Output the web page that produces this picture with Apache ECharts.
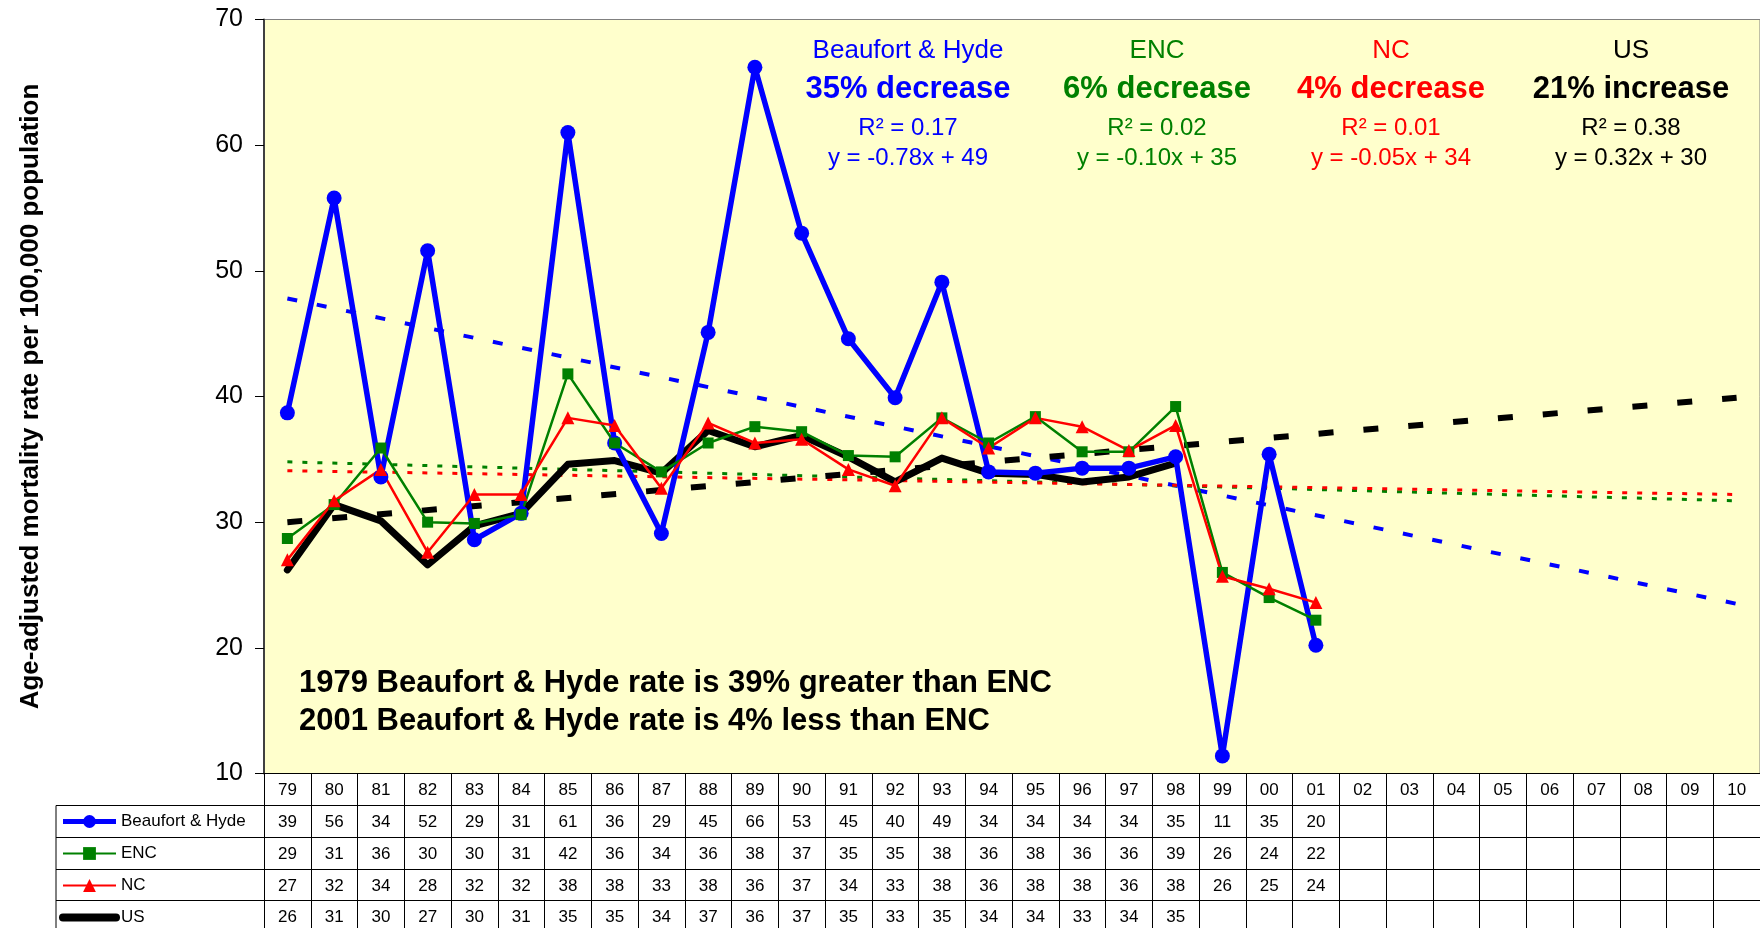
<!DOCTYPE html>
<html>
<head>
<meta charset="utf-8">
<title>Age-adjusted mortality rate</title>
<script src="https://cdn.jsdelivr.net/npm/echarts@6/dist/echarts.min.js"></script>
<style>
  html, body { margin: 0; padding: 0; background: #fff; }
  #chart { width: 1760px; height: 928px; }
</style>
</head>
<body>
<div id="chart"></div>
<script>
// Data
const years = ['79', '80', '81', '82', '83', '84', '85', '86', '87', '88', '89', '90', '91', '92', '93', '94',
    '95', '96', '97', '98', '99', '00', '01', '02', '03', '04', '05', '06', '07', '08', '09', '10'];
const beaufortHyde = [38.7, 55.8, 33.6, 51.6, 28.6, 30.7, 61.0, 36.3, 29.1, 45.1, 66.2, 53.0, 44.6, 39.9, 49.1, 34.0,
    33.9, 34.3, 34.3, 35.2, 11.4, 35.4, 20.2];
const enc = [28.7, 31.4, 35.9, 30.0, 29.9, 30.6, 41.8, 36.3, 34.0, 36.3, 37.6, 37.2, 35.3, 35.2, 38.3, 36.3,
    38.4, 35.6, 35.6, 39.2, 26.0, 24.0, 22.2];
const nc = [27.0, 31.7, 34.2, 27.6, 32.2, 32.2, 38.3, 37.7, 32.7, 37.9, 36.3, 36.6, 34.2, 32.9, 38.3, 35.9,
    38.3, 37.6, 35.7, 37.7, 25.7, 24.7, 23.6];
const us = [26.2, 31.4, 30.1, 26.6, 29.7, 30.7, 34.6, 34.9, 33.9, 37.3, 36.0, 36.9, 35.2, 33.2, 35.1, 33.9,
    33.8, 33.2, 33.6, 34.7];

// Trend line end values (at '79' and at '10')
const trendBH = [47.8, 23.5];
const trendENC = [34.8, 31.7];
const trendNC = [34.1, 32.2];
const trendUS = [30.0, 39.9];

const yTicks = { min: 10, max: 70, interval: 10 };

const tableRows = [beaufortHyde, enc, nc, us];

const FONT = 'Liberation Sans, Arial, sans-serif';
const BLUE = '#0000FF', GREEN = '#008000', RED = '#FF0000', BLACK = '#000000';

// layout
const gridLeft = 264, gridTop = 19.5, gridBottom = 154.5;
const rowH = 32;
const tableTop = 928 - gridBottom;
const rowOffsets = [32, 64, 96, 127];
const legendLeft = 56;

const chart = echarts.init(document.getElementById('chart'));

function trendData(ends) {
    return [[years[0], ends[0]], [years[years.length - 1], ends[1]]];
}

// one axis per table row, labels come from the series arrays
const rowAxes = tableRows.map(function (row, k) {
    return {
        type: 'category',
        data: years,
        position: 'bottom',
        offset: rowOffsets[k],
        boundaryGap: true,
        axisLine: { show: true, lineStyle: { color: '#000', width: 1 } },
        axisTick: { show: true, interval: 0, length: rowH, lineStyle: { color: '#000' } },
        axisLabel: {
            interval: 0,
            margin: 8,
            fontSize: 17,
            fontFamily: FONT,
            color: '#000',
            formatter: function (val, idx) {
                return row[idx] != null ? String(Math.round(row[idx])) : '';
            }
        },
        splitLine: { show: false }
    };
});

// borders of the legend cells left of the plot
const tableLines = [];
rowOffsets.forEach(function (off) {
    tableLines.push({
        type: 'line',
        shape: { x1: legendLeft, y1: tableTop + off, x2: gridLeft, y2: tableTop + off },
        style: { stroke: '#000', lineWidth: 1 }
    });
});
tableLines.push({
    type: 'line',
    shape: { x1: legendLeft, y1: tableTop + rowOffsets[0], x2: legendLeft, y2: 928 },
    style: { stroke: '#000', lineWidth: 1 }
});

// annotation blocks above the lines
const notes = [
    { x: 908, color: BLUE, name: 'Beaufort & Hyde', change: '35% decrease', r2: 'R² = 0.17', eq: 'y = -0.78x + 49' },
    { x: 1157, color: GREEN, name: 'ENC', change: '6% decrease', r2: 'R² = 0.02', eq: 'y = -0.10x + 35' },
    { x: 1391, color: RED, name: 'NC', change: '4% decrease', r2: 'R² = 0.01', eq: 'y = -0.05x + 34' },
    { x: 1631, color: BLACK, name: 'US', change: '21% increase', r2: 'R² = 0.38', eq: 'y = 0.32x + 30' }
];
const noteText = [];
notes.forEach(function (n) {
    const rows = [
        { t: n.name, y: 51, font: '26px ' + FONT },
        { t: n.change, y: 89, font: 'bold 31px ' + FONT },
        { t: n.r2, y: 128, font: '24px ' + FONT },
        { t: n.eq, y: 158, font: '24px ' + FONT }
    ];
    rows.forEach(function (r) {
        noteText.push({
            type: 'text',
            x: n.x,
            y: r.y,
            z: 10,
            style: { text: r.t, fill: n.color, font: r.font, textAlign: 'center', textVerticalAlign: 'middle' }
        });
    });
});
['1979 Beaufort & Hyde rate is 39% greater than ENC', '2001 Beaufort & Hyde rate is 4% less than ENC']
    .forEach(function (t, i) {
        noteText.push({
            type: 'text',
            x: 299,
            y: 683 + i * 38,
            z: 10,
            style: { text: t, fill: '#000', font: 'bold 31px ' + FONT, textAlign: 'left', textVerticalAlign: 'middle' }
        });
    });

const option = {
    animation: false,
    backgroundColor: '#fff',
    grid: {
        left: gridLeft,
        top: gridTop,
        right: 0,
        bottom: gridBottom,
        show: true,
        backgroundColor: '#FFFFCC',
        borderColor: '#808080',
        borderWidth: 1
    },
    legend: {
        data: [
            { name: 'Beaufort & Hyde', lineStyle: { width: 5 } },
            { name: 'ENC', lineStyle: { width: 2 } },
            { name: 'NC', lineStyle: { width: 2 } },
            { name: 'US', lineStyle: { width: 8, cap: 'round' }, itemStyle: { opacity: 0 } }
        ],
        orient: 'vertical',
        left: legendLeft + 3,
        top: tableTop + rowOffsets[0] + 6,
        padding: 0,
        itemWidth: 53,
        itemHeight: 16,
        itemGap: 12,
        textStyle: { fontSize: 17, fontFamily: FONT, color: '#000', lineHeight: 20 },
        selectedMode: false
    },
    xAxis: [{
        type: 'category',
        data: years,
        position: 'bottom',
        boundaryGap: true,
        axisLine: { show: true, lineStyle: { color: '#000', width: 1 } },
        axisTick: { show: true, interval: 0, length: rowH, lineStyle: { color: '#000' } },
        axisLabel: { interval: 0, margin: 8, fontSize: 17, fontFamily: FONT, color: '#000' },
        splitLine: { show: false }
    }].concat(rowAxes),
    yAxis: {
        type: 'value',
        min: yTicks.min,
        max: yTicks.max,
        interval: yTicks.interval,
        name: 'Age-adjusted mortality rate per 100,000 population',
        nameLocation: 'middle',
        nameRotate: 90,
        nameGap: 220,
        nameTextStyle: { fontSize: 26, fontWeight: 'bold', fontFamily: FONT, color: '#000' },
        axisLine: { show: true, lineStyle: { color: '#404040', width: 2 } },
        axisTick: { show: true, length: 9, lineStyle: { color: '#000' } },
        axisLabel: { fontSize: 25, fontFamily: FONT, color: '#000', margin: 21 },
        splitLine: { show: false }
    },
    series: [
        {
            name: 'BH trend', type: 'line', data: trendData(trendBH), symbol: 'none', z: 1,
            lineStyle: { color: BLUE, width: 4, type: [10, 20] }
        },
        {
            name: 'ENC trend', type: 'line', data: trendData(trendENC), symbol: 'none', z: 1,
            lineStyle: { color: GREEN, width: 3, type: [5, 10] }
        },
        {
            name: 'NC trend', type: 'line', data: trendData(trendNC), symbol: 'none', z: 1,
            lineStyle: { color: RED, width: 3, type: [5, 10] }
        },
        {
            name: 'US trend', type: 'line', data: trendData(trendUS), symbol: 'none', z: 1,
            lineStyle: { color: BLACK, width: 6, type: [15, 30] }
        },
        {
            name: 'US', type: 'line', data: us, symbol: 'none', z: 2,
            itemStyle: { color: BLACK },
            lineStyle: { color: BLACK, width: 7, join: 'round', cap: 'round' }
        },
        {
            name: 'Beaufort & Hyde', type: 'line', data: beaufortHyde, symbol: 'circle', symbolSize: 15, z: 3,
            itemStyle: { color: BLUE },
            lineStyle: { color: BLUE, width: 5.5, join: 'round' }
        },
        {
            name: 'ENC', type: 'line', data: enc, symbol: 'rect', symbolSize: 11, z: 3,
            itemStyle: { color: GREEN },
            lineStyle: { color: GREEN, width: 2.5 }
        },
        {
            name: 'NC', type: 'line', data: nc, symbol: 'triangle', symbolSize: 13, z: 3,
            itemStyle: { color: RED },
            lineStyle: { color: RED, width: 2.5 }
        }
    ],
    graphic: tableLines.concat(noteText)
};

chart.setOption(option);
</script>
</body>
</html>
